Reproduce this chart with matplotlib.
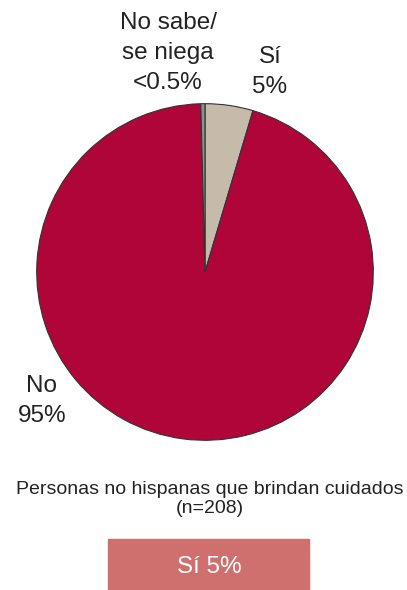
import matplotlib.pyplot as plt
from matplotlib.patches import Rectangle

# slice values (percent), drawn clockwise from 12 o'clock
labels = ["Sí", "No", "No sabe/se niega"]
sizes = [4.6, 95.0, 0.4]
colors = ["#c6baab", "#b00538", "#8f8f8f"]

slice_text = ["Sí\n5%", "No\n95%", "No sabe/\nse niega\n<0.5%"]
subtitle = "Personas no hispanas que brindan cuidados\n(n=208)"
box_text = "Sí 5%"

plt.rcParams['font.family'] = ['Liberation Sans', 'DejaVu Sans']

W, H = 407, 590
fig = plt.figure(figsize=(W / 100, H / 100), dpi=100)

# pie axes: center (205, 272), radius 170 px
cx, cy, r = 205, 272, 170
ax = fig.add_axes([(cx - r) / W, (H - cy - r) / H, 2 * r / W, 2 * r / H])
ax.pie(sizes, colors=colors, startangle=90, counterclock=False, radius=1,
       wedgeprops=dict(edgecolor="#333333", linewidth=0.8))
ax.set_xlim(-1.01, 1.01)
ax.set_ylim(-1.01, 1.01)
ax.set_aspect("equal")
ax.axis("off")

txt = dict(color="#222222", fontsize=17.5, ha="center", va="center",
           linespacing=1.45)
fig.text(270 / W, 1 - 72 / H, slice_text[0], **txt)
fig.text(42 / W, 1 - 401 / H, slice_text[1], **txt)
fig.text(168 / W, 1 - 53 / H, slice_text[2], **txt)

fig.text(210 / W, 1 - 499 / H, subtitle, ha="center", va="center",
         fontsize=14, color="#222222", linespacing=1.15)

fig.patches.append(Rectangle((108 / W, 0), 201 / W, 51 / H,
                             transform=fig.transFigure, color="#cf706f"))
fig.text(209 / W, 1 - 567 / H, box_text, ha="center", va="center",
         fontsize=17.5, color="white")

fig.savefig("out.png", dpi=100)
